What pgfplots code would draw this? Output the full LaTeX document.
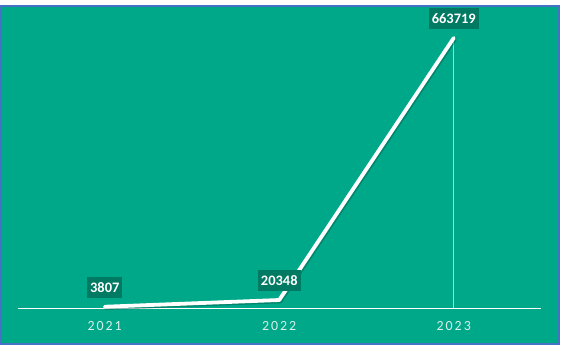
\documentclass[border=0pt]{standalone}
\usepackage{pgfplots}
\pgfplotsset{compat=1.18}
\usepackage{fontspec}
\setmainfont{Carlito}
\newfontfamily\tickfont[LetterSpace=14]{Carlito}
\definecolor{bggreen}{RGB}{0,168,138}
\definecolor{lblgreen}{RGB}{0,122,98}
\definecolor{shadowgreen}{RGB}{0,90,72}
\definecolor{frameblue}{RGB}{68,114,196}
\definecolor{ticktext}{RGB}{215,240,233}
\begin{document}
\begin{tikzpicture}[x=1bp,y=1bp]
\fill[white] (0,0) rectangle (562,347);
\useasboundingbox (0,0) rectangle (562,347);
\fill[bggreen,draw=frameblue,line width=1.6bp] (1,3) rectangle (559,341);
\begin{axis}[
  at={(17.5bp,38.7bp)}, anchor=south west,
  scale only axis, width=523.5bp, height=285.1bp,
  xmin=-0.5, xmax=2.5, ymin=0, ymax=700000,
  clip=false,
  axis line style={draw=none},
  hide y axis,
  axis x line*=bottom,
  xtick={0,1,2}, xticklabels={2021,2022,2023},
  major tick length=0pt,
  xticklabel style={font=\tickfont\fontsize{14}{15}\selectfont, text=ticktext, anchor=base, yshift=-22bp},
  point meta=explicit symbolic,
]
\draw[white, line width=1.4bp] (rel axis cs:0,0) -- (rel axis cs:1,0);
\addplot[ycomb, white, opacity=0.6, line width=0.9bp, mark=none] coordinates {(2,663719)};
\addplot[shadowgreen, opacity=0.45, line width=3.6bp, line cap=round, line join=round, mark=none, xshift=1.2bp, yshift=-1.5bp] coordinates {(0,3807) (1,20348) (2,663719)};
\addplot[white, line width=3.8bp, line cap=round, line join=round, mark=none,
  nodes near coords,
  every node near coord/.append style={anchor=center, yshift=19.5bp, fill=lblgreen, text=white,
    font=\bfseries\fontsize{14.5}{15}\selectfont, inner xsep=3bp, inner ysep=0pt, minimum height=21bp, text height=9.5bp, text depth=0pt}
] coordinates {(0,3807)[3807] (1,20348)[20348] (2,663719)[663719]};
\end{axis}
\end{tikzpicture}
\end{document}
